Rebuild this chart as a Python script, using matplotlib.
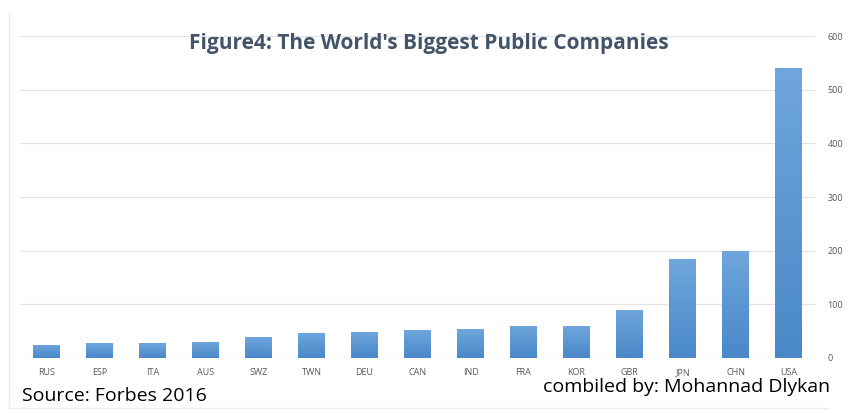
import numpy as np
import matplotlib
matplotlib.use("Agg")
import matplotlib.pyplot as plt
from matplotlib.colors import LinearSegmentedColormap

# Number of companies per country (Forbes 2016)
countries = ["RUS", "ESP", "ITA", "AUS", "SWZ", "TWN", "DEU", "CAN",
             "IND", "FRA", "KOR", "GBR", "JPN", "CHN", "USA"]
companies = [25, 27, 27, 30, 39, 47, 49, 52, 54, 60, 59, 90, 184, 200, 540]
yticks = [0, 100, 200, 300, 400, 500, 600]

fig = plt.figure(figsize=(8.62, 4.13), dpi=100)
ax = fig.add_axes([0.0232, 0.1332, 0.9223, 0.7796])

x = np.arange(len(countries))
bars = ax.bar(x, companies, width=0.5, color="#5b9bd5", edgecolor="none", zorder=2)

# light-to-dark vertical gradient inside every bar
grad = LinearSegmentedColormap.from_list("g", ["#4a88c9", "#6fa6dc"])
for b in bars:
    x0, y0 = b.get_x(), b.get_y()
    img = ax.imshow(np.linspace(0, 1, 100).reshape(-1, 1), cmap=grad,
                    origin="lower", aspect="auto", zorder=3,
                    extent=[x0, x0 + b.get_width(), y0, y0 + b.get_height()])
    img.set_clip_path(b)

ax.set_xlim(-0.5, len(countries) - 0.5)
ax.set_ylim(0, 600)
ax.set_yticks(yticks)
ax.yaxis.tick_right()
ax.set_xticks(x)
ax.set_xticklabels(countries)
ax.tick_params(axis="both", length=0, labelsize=6.5, labelcolor="#595959")
ax.tick_params(axis="y", pad=9)
ax.tick_params(axis="x", pad=7)
for lbl in ax.get_xticklabels() + ax.get_yticklabels():
    lbl.set_family("Open Sans")
for s in ax.spines.values():
    s.set_visible(False)
ax.grid(axis="y", color="#e3e3e3", linewidth=0.9, zorder=0)
ax.set_axisbelow(True)

fig.text(0.497, 0.895, "Figure4: The World's Biggest Public Companies",
         ha="center", va="center", fontsize=15, fontweight="bold",
         color="#44546a", family="Open Sans")
fig.text(0.026, 0.042, "Source: Forbes 2016", ha="left", va="center",
         fontsize=14, color="black", family="Open Sans")
fig.text(0.963, 0.062, "combiled by: Mohannad Dlykan", ha="right", va="center",
         fontsize=14, color="black", family="Open Sans")

# faint sheet borders from the screenshot
fig.add_artist(plt.Line2D([0.011, 0.011], [0.02, 0.97], color="#ececec", lw=1))
fig.add_artist(plt.Line2D([0.011, 0.96], [0.012, 0.012], color="#ececec", lw=1))

fig.savefig("out.png", dpi=100)
